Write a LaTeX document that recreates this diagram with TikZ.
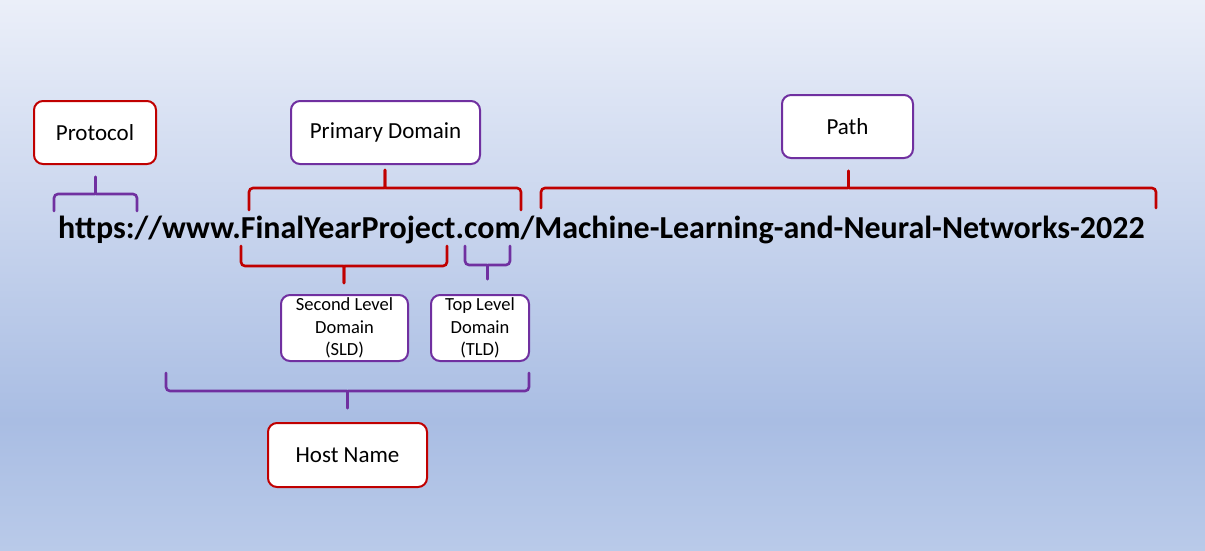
\documentclass[tikz,border=0pt]{standalone}
\usepackage{fontspec}
\setmainfont{Carlito}
\usetikzlibrary{positioning}
\definecolor{partred}{HTML}{C00000}
\definecolor{partpurple}{HTML}{7030A0}
\definecolor{bgtop}{HTML}{EBEFF9}
\definecolor{bgmid}{HTML}{A9BDE3}
\definecolor{bgbottom}{HTML}{B9CAE9}
\tikzset{
  partbox/.style   = {draw, line width=2pt, rounded corners=9pt, fill=white,
                      font=\fontsize{23}{27}\selectfont, align=center, inner sep=0pt},
  redbox/.style    = {partbox, draw=partred},
  purplebox/.style = {partbox, draw=partpurple},
  smalltxt/.style  = {font=\fontsize{18.5}{22.5}\selectfont},
  urltext/.style   = {font=\fontsize{32}{36}\selectfont\bfseries, inner sep=0pt},
  curly/.style     = {line width=2.6pt, rounded corners=4pt, line cap=round},
}
% brace: colour, left x, right x, arm end y, bar y, tip y
\newcommand{\urlbrace}[6]{%
  \pgfmathsetmacro{\bmid}{(#2+#3)/2}%
  \pgfmathsetmacro{\bdir}{#6<#5 ? -1 : 1}%
  \draw[curly, draw=#1] (#2,#4) -- (#2,#5) -- (\bmid-5,#5)
    .. controls (\bmid,#5) .. (\bmid,#5+5*\bdir) -- (\bmid,#6);
  \draw[curly, draw=#1] (#3,#4) -- (#3,#5) -- (\bmid+5,#5)
    .. controls (\bmid,#5) .. (\bmid,#5+5*\bdir) -- (\bmid,#6);
}

\begin{document}
\begin{tikzpicture}[x=1pt, y=-1pt]
    \useasboundingbox (0,0) rectangle (1205,550);
    % background
    \shade[top color=bgtop, bottom color=bgmid] (0,0) rectangle (1205,421);
    \shade[top color=bgmid, bottom color=bgbottom] (0,420) rectangle (1205,550);

    % the address itself
    \node[urltext, anchor=base west] (url) at (58,238)
      {https://www.FinalYearProject.com/Machine-Learning-and-Neural-Networks-2022};

    % parts above
    \node[redbox,    minimum width=122pt, minimum height=63pt] (protocol) at (95,132.5)  {Protocol};
    \node[purplebox, minimum width=189pt, minimum height=63pt] (primary)  at (385.5,132.5) {Primary Domain};
    \node[purplebox, minimum width=131pt, minimum height=63pt] (path)     at (847.5,126.5) {Path};
    % parts below
    \node[purplebox, smalltxt, minimum width=127pt, minimum height=66pt] (sld) at (344.5,328)
      {Second Level\\Domain\\(SLD)};
    \node[purplebox, smalltxt, minimum width=98pt, minimum height=66pt]  (tld) at (480,328)
      {Top Level\\Domain\\(TLD)};
    \node[redbox,    minimum width=159pt, minimum height=64pt] (host)     at (347.5,455)   {Host Name};

    % braces
    \urlbrace{partpurple}{54}{137}{211}{194}{177}
    \urlbrace{partred}{249}{521}{210}{188}{170}
    \urlbrace{partred}{541}{1156}{208}{188}{171}
    \urlbrace{partred}{241}{447}{246}{266}{283}
    \urlbrace{partpurple}{465}{510}{246}{265}{279}
    \urlbrace{partpurple}{166}{529}{373}{391}{408}
\end{tikzpicture}
\end{document}
